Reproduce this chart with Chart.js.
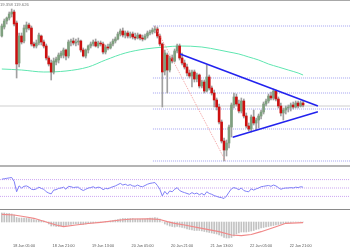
<!DOCTYPE html>
<html><head><meta charset="utf-8">
<script src="https://cdn.jsdelivr.net/npm/chart.js@4.4.1/dist/chart.umd.min.js"></script>
<style>
html,body{margin:0;padding:0;background:#fff;width:350px;height:250px;overflow:hidden;}
#wrap{position:relative;width:350px;height:250px;}
canvas{position:absolute;left:0;}
.sep{position:absolute;left:0;width:350px;}
#hdr{position:absolute;left:0;top:2px;font:4.2px "Liberation Sans";color:#777;white-space:nowrap;}
</style></head><body>
<div id="wrap">
<canvas id="main" width="350" height="165" style="top:0"></canvas>
<canvas id="rsi" width="350" height="42" style="top:167px"></canvas>
<canvas id="macd" width="350" height="30" style="top:210px"></canvas>
<canvas id="axis" width="350" height="12" style="top:236px"></canvas>
<div class="sep" style="top:0;height:1px;background:#a8a8a8"></div>
<div class="sep" style="top:165px;height:2px;background:#b4b4b4"></div>
<div class="sep" style="top:209px;height:1px;background:#8a8a8a"></div>
<div id="hdr">19.358 119.626</div>
</div>
<script>
// ---- data (H1 bars, index 0 = 17 Jun 20:00) ----
const openP = [120.64,120.73,120.79,120.82,120.86,120.88,120.77,120.37,120.64,120.59,
120.71,120.75,120.72,120.56,120.54,120.57,120.64,120.58,120.54,120.42,
120.37,120.28,120.38,120.40,120.44,120.45,120.50,120.44,120.58,120.59,
120.57,120.58,120.59,120.50,120.44,120.50,120.54,120.56,120.58,120.54,
120.57,120.56,120.48,120.53,120.52,120.56,120.59,120.61,120.66,120.69,
120.65,120.67,120.64,120.66,120.63,120.62,120.65,120.62,120.61,120.64,
120.67,120.68,120.70,120.71,120.64,120.56,120.29,120.45,120.30,120.42,
120.39,120.49,120.54,120.42,120.37,120.33,120.27,120.24,120.28,120.21,
120.25,120.14,120.18,120.09,120.23,120.12,120.07,120.00,119.93,119.78,
119.59,119.50,119.57,119.73,119.95,120.03,119.96,119.89,119.99,119.84,
119.74,119.71,119.83,119.77,119.80,119.84,119.88,119.96,119.99,120.04,
120.02,120.09,120.01,119.94,119.87,119.90,119.92,119.93,119.95,119.93,
119.97,119.94,119.97];
const highP = [120.76,120.81,120.83,120.88,120.91,120.90,120.79,120.67,120.67,120.75,
120.78,120.77,120.74,120.58,120.60,120.67,120.65,120.60,120.56,120.44,
120.40,120.42,120.43,120.47,120.49,120.52,120.51,120.60,120.61,120.62,
120.61,120.62,120.60,120.52,120.51,120.55,120.58,120.60,120.61,120.59,
120.59,120.58,120.55,120.56,120.58,120.61,120.63,120.68,120.71,120.72,
120.69,120.69,120.68,120.68,120.67,120.67,120.66,120.65,120.66,120.69,
120.70,120.72,120.74,120.73,120.66,120.57,120.50,120.47,120.44,120.45,
120.51,120.56,120.56,120.47,120.40,120.36,120.30,120.30,120.30,120.27,
120.26,120.20,120.20,120.35,120.25,120.14,120.10,120.02,119.96,119.80,
119.62,119.60,119.75,119.97,120.07,120.06,120.00,120.02,120.01,119.87,
119.77,119.85,119.90,119.82,119.86,119.90,119.98,120.01,120.06,120.08,
120.11,120.10,120.03,119.97,119.92,119.94,119.95,119.97,119.98,119.99,
119.99,119.99,119.99];
const lowP = [120.63,120.71,120.76,120.80,120.83,120.74,120.22,120.33,120.56,120.57,
120.68,120.70,120.54,120.52,120.52,120.55,120.55,120.52,120.40,120.34,
120.20,120.26,120.35,120.37,120.42,120.42,120.40,120.42,120.54,120.55,
120.54,120.55,120.48,120.43,120.42,120.47,120.52,120.54,120.53,120.52,
120.54,120.46,120.46,120.50,120.51,120.54,120.57,120.60,120.64,120.63,
120.62,120.62,120.62,120.61,120.60,120.61,120.60,120.59,120.60,120.62,
120.65,120.66,120.67,120.62,120.54,119.93,120.25,120.07,120.28,120.37,
120.38,120.47,120.40,120.35,120.31,120.24,120.22,120.13,120.18,120.18,
120.12,120.12,120.07,120.08,120.10,120.05,119.93,119.90,119.76,119.57,
119.39,119.44,119.52,119.63,119.92,119.94,119.87,119.87,119.82,119.72,
119.69,119.68,119.75,119.70,119.72,119.81,119.86,119.94,119.97,120.00,
120.00,119.99,119.92,119.84,119.80,119.86,119.88,119.89,119.91,119.92,
119.92,119.93,119.93];
const closeP = [120.74,120.79,120.82,120.86,120.88,120.76,120.36,120.64,120.58,120.72,
120.75,120.72,120.56,120.54,120.57,120.65,120.58,120.54,120.42,120.36,
120.28,120.39,120.41,120.45,120.47,120.50,120.44,120.58,120.59,120.57,
120.58,120.59,120.50,120.44,120.50,120.54,120.56,120.58,120.54,120.57,
120.56,120.48,120.53,120.52,120.56,120.59,120.61,120.66,120.69,120.65,
120.67,120.64,120.66,120.63,120.62,120.65,120.62,120.61,120.64,120.67,
120.68,120.70,120.71,120.64,120.56,120.28,120.47,120.30,120.42,120.39,
120.49,120.54,120.42,120.37,120.33,120.27,120.24,120.28,120.21,120.25,
120.14,120.18,120.09,120.23,120.12,120.07,120.00,119.93,119.78,119.59,
119.50,119.57,119.73,119.95,120.03,119.96,119.89,119.99,119.84,119.74,
119.71,119.83,119.77,119.80,119.84,119.88,119.96,119.99,120.04,120.02,
120.09,120.01,119.94,119.87,119.90,119.92,119.93,119.95,119.93,119.97,
119.94,119.97,119.95];
// moving average (read at selected bars)
const maIdx = [0,8,17,26,35,42,50,58,66,72,81,88,92,96,100,104,108,112,116,120,122];
const maVal = [120.31,120.30,120.28,120.29,120.33,120.40,120.47,120.51,120.53,120.54,120.53,120.50,120.48,120.46,120.43,120.40,120.36,120.33,120.30,120.27,120.25];
// drawn objects
const bidLevel = 119.94;
const fibStartIdx = 61.2;
const fibLevels = [120.74,120.22,120.07,119.91,119.71,119.39];
const fibLineIdx = [62,90.6];
const fibLineVal = [120.74,119.39];
const triUpperIdx = [72.2,128];
const triUpperVal = [120.46,119.94];
const triLowerIdx = [93.5,128];
const triLowerVal = [119.627,119.883];
// RSI
const rsiVal = [71,72,73,74,75,66,41,55,50,54,
55,52,47,46,48,52,49,47,41,38,
36,45,46,49,50,52,47,54,53,51,
52,52,47,44,47,50,51,53,50,52,
51,46,49,48,51,53,55,58,61,57,
59,56,58,55,54,57,54,53,56,59,
61,62,63,56,47,31,42,35,43,41,
47,51,44,41,39,37,35,39,36,38,
34,37,33,41,37,35,32,30,28,27,
25,31,40,48,51,49,46,50,44,42,
41,48,45,48,50,53,54,55,56,54,
57,55,51,47,49,50,50,51,50,52,
51,53,52];
const rsiLevels = [70,50,30];
// MACD
const macdHist = [0.09,0.09,0.085,0.085,0.08,0.07,0.045,0.04,0.04,0.04,
0.04,0.035,0.03,0.025,0.02,0.02,0.015,0.01,0.0,-0.02,
-0.04,-0.04,-0.045,-0.045,-0.04,-0.04,-0.035,-0.03,-0.025,-0.02,
-0.02,-0.02,-0.025,-0.025,-0.02,-0.015,-0.01,-0.01,-0.005,-0.005,
0.0,0.0,0.005,0.005,0.01,0.015,0.02,0.025,0.03,0.035,
0.035,0.035,0.035,0.035,0.03,0.03,0.03,0.03,0.03,0.035,
0.04,0.04,0.045,0.04,0.03,0.0,-0.02,-0.03,-0.04,-0.045,
-0.05,-0.045,-0.05,-0.055,-0.06,-0.07,-0.075,-0.08,-0.085,-0.085,
-0.085,-0.09,-0.095,-0.1,-0.105,-0.11,-0.115,-0.12,-0.13,-0.14,
-0.155,-0.16,-0.16,-0.155,-0.14,-0.12,-0.11,-0.1,-0.1,-0.1,
-0.095,-0.09,-0.085,-0.075,-0.07,-0.06,-0.055,-0.05,-0.045,-0.04,
-0.035,-0.03,-0.025,-0.02,-0.015,-0.01,-0.005,-0.005,0.0,0.0,
0.0,0.0,0.0];
const sigIdx = [0,5,10,13,18,22,25,30,35,40,48,53,60,64,67,70,74,81,88,93,97,101,105,111,115,122];
const sigVal = [0.077,0.07,0.05,0.037,0.0,-0.03,-0.047,-0.03,-0.015,-0.003,0.02,0.03,0.032,0.025,0.003,-0.013,-0.03,-0.063,-0.097,-0.13,-0.137,-0.125,-0.097,-0.047,-0.013,-0.007];
// time axis labels
const tickIdx = [9,25,41,57,73,89,105,121];
const tickText = ["18 Jun 05:00","18 Jun 21:00","19 Jun 13:00","20 Jun 05:00","20 Jun 21:00","21 Jun 13:00","22 Jun 05:00","22 Jun 21:00"];

// ---- charts ----
const X_MIN = -0.73, X_MAX = 141;
const idx = closeP.map((_, i) => i);
const pts = (xs, ys) => xs.map((x, k) => ({x: x, y: ys[k]}));
const xHidden = {type:'linear', min:X_MIN, max:X_MAX, offset:false, display:false};
const base = {responsive:false, animation:false, events:[], devicePixelRatio:1,
  layout:{padding:0}, plugins:{legend:{display:false}, tooltip:{enabled:false}}};
const lineDs = (data, color, w, dash, order) => ({type:'line', data, borderColor:color, borderWidth:w,
  borderDash:dash||[], pointRadius:0, fill:false, tension:0, order:order});

const mainDs = [];
mainDs.push(lineDs([{x:X_MIN,y:bidLevel},{x:X_MAX,y:bidLevel}], '#cfcfcf', 1, null, 20));
fibLevels.forEach(v => mainDs.push(lineDs([{x:fibStartIdx,y:v},{x:X_MAX,y:v}], '#a4a4f0', 1, [1,1], 19)));
const ma = lineDs(pts(maIdx, maVal), '#5fe6b0', 1, null, 10);
ma.cubicInterpolationMode = 'monotone';
mainDs.push(ma);
mainDs.push({type:'bar', data: idx.map(i => ({x:i, y:[lowP[i], highP[i]]})), backgroundColor:'#a0a0a0',
  barThickness:1, grouped:false, order:6});
mainDs.push({type:'bar', data: idx.map(i => ({x:i, y:[openP[i], closeP[i]]})),
  backgroundColor: idx.map(i => closeP[i] >= openP[i] ? '#7fa07f' : '#cc1010'),
  barThickness:2, minBarLength:1, grouped:false, order:5});
mainDs.push(lineDs(pts(fibLineIdx, fibLineVal), '#f2a0a0', 1, [1,1], 3));
mainDs.push(lineDs(pts(triUpperIdx, triUpperVal), '#2222ee', 1.5, null, 1));
mainDs.push(lineDs(pts(triLowerIdx, triLowerVal), '#2222ee', 1.5, null, 1));

new Chart(document.getElementById('main'), {type:'bar', data:{datasets:mainDs},
  options:Object.assign({}, base, {scales:{x:xHidden, y:{display:false, min:119.35, max:121.00}}})});

const rsiDs = rsiLevels.map(v => lineDs([{x:X_MIN,y:v},{x:X_MAX,y:v}], '#cca6f2', 1, [1,1], 5));
rsiDs.push(lineDs(pts(idx, rsiVal), '#7f7ff6', 1, null, 1));
new Chart(document.getElementById('rsi'), {type:'line', data:{datasets:rsiDs},
  options:Object.assign({}, base, {scales:{x:xHidden, y:{display:false, min:0, max:100}}})});

new Chart(document.getElementById('macd'), {type:'bar', data:{datasets:[
  {type:'bar', data: pts(idx, macdHist), backgroundColor:'#c2c2c2', barThickness:1, grouped:false, order:5},
  lineDs(pts(sigIdx, sigVal), '#f08888', 1.2, null, 1)
]}, options:Object.assign({}, base, {scales:{x:xHidden, y:{display:false, min:-0.18, max:0.12}}})});

new Chart(document.getElementById('axis'), {type:'line', data:{datasets:[{data:[]}]},
  options:Object.assign({}, base, {scales:{
    x:{type:'linear', min:X_MIN, max:X_MAX, offset:false, display:true,
      grid:{display:false, drawTicks:false}, border:{display:false},
      afterBuildTicks: s => { s.ticks = tickIdx.map(v => ({value:v})); },
      ticks:{autoSkip:false, maxRotation:0, minRotation:0, padding:0, color:'#555',
        font:{family:'Liberation Sans', size:3.8}, callback:(v, k) => tickText[k]}},
    y:{display:false}}})});
</script>
</body></html>
